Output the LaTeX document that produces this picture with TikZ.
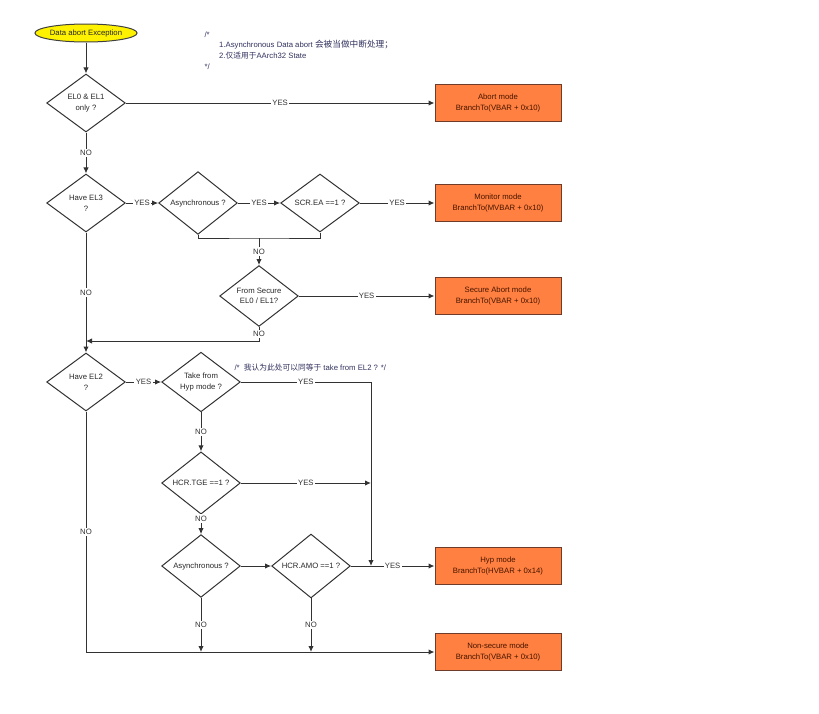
\documentclass[tikz,border=0pt]{standalone}
\usepackage{fontspec}
\setmainfont{Liberation Sans}
\newfontfamily\cjk{Noto Sans CJK SC}
\usetikzlibrary{shapes.geometric, arrows.meta}

\definecolor{modeorange}{RGB}{255,128,64}
\definecolor{modeedge}{RGB}{110,60,40}
\definecolor{modetext}{RGB}{70,20,0}
\definecolor{flowline}{RGB}{50,50,50}
\definecolor{notetext}{RGB}{50,50,95}

\tikzset{
  decision/.style={diamond, draw=flowline, minimum width=59pt, minimum height=43.5pt,
    inner sep=0pt, align=center, text=black!85},
  modebox/.style={rectangle, draw=modeedge, fill=modeorange, minimum width=94.5pt,
    minimum height=27.75pt, align=center, text=modetext},
  startnode/.style={ellipse, draw=black!75, fill=yellow, minimum width=75pt,
    minimum height=13.5pt, inner sep=0pt, text=black!85},
  lbl/.style={fill=white, inner sep=1pt, text=black!80},
  note/.style={align=left, inner sep=0pt, text=notetext},
}

\begin{document}
\begin{tikzpicture}[x=0.75pt, y=-0.75pt, >={Latex[length=4.5pt, width=4pt]},
  line width=0.75pt, color=flowline, font=\fontsize{5.8}{8}\selectfont]

\useasboundingbox (0,0) rectangle (819,714);

% nodes
\node [startnode] (S) at (86,33) {Data abort Exception};
\node [decision] (A) at (86,103) {EL0 \& EL1\\only ?};
\node [modebox] (B) at (498,103) {Abort mode\\BranchTo(VBAR + 0x10)};

\node [decision] (C) at (86,203) {Have EL3\\?};
\node [decision] (D) at (198,203) {Asynchronous ?};
\node [decision] (E) at (320,203) {SCR.EA ==1 ?};
\node [modebox] (F) at (498,203) {Monitor mode\\BranchTo(MVBAR + 0x10)};

\node [decision] (G) at (259,296) {From Secure\\EL0 / EL1?};
\node [modebox] (H) at (498,296) {Secure Abort mode\\BranchTo(VBAR + 0x10)};

\node [decision] (I) at (86,382) {Have EL2\\?};
\node [decision] (J) at (201,382) {Take from\\Hyp mode ?};
\node [decision] (K) at (201,483) {HCR.TGE ==1 ?};
\node [decision] (L) at (201,566) {Asynchronous ?};
\node [decision] (M) at (311,566) {HCR.AMO ==1 ?};
\node [modebox] (N) at (498,566) {Hyp mode\\BranchTo(HVBAR + 0x14)};
\node [modebox] (O) at (498,652) {Non-secure mode\\BranchTo(VBAR + 0x10)};

% notes
\node [note, anchor=north west] (X) at (204,31)
  {/*\\\hspace{11pt}1.Asynchronous Data abort {\cjk\fontsize{6.5}{8}\selectfont 会被当做中断处理；}\\
   \hspace{11pt}2.{\cjk 仅适用于}AArch32 State\\*/};
\node [note, anchor=west] (Y) at (234,368) {/*\ \ {\cjk 我认为此处可以同等于} take from EL2 ? */};

% joints
\coordinate (P) at (259,238);
\coordinate (Q) at (86,341);
\coordinate (R) at (371,566);
\coordinate (T) at (371,483);
\coordinate (U) at (201,652);
\coordinate (V) at (311,652);

% arrows
\draw [->] (S) to (A);
\draw [->] (A) to node [lbl]{YES} (B);
\draw [->] (A) to node [lbl]{NO} (C);

\draw [->] (C) to node [lbl]{YES} (D);
\draw [->] (D) to node [lbl]{YES} (E);
\draw [->] (E) to node [lbl]{YES} (F);
\draw (D.south) |- (P) -| (E.south);
\draw [->] (P) to node [lbl]{NO} (G);

\draw [->] (G) to node [lbl]{YES} (H);
\draw [->] (G.south) |- node [lbl, pos=0.25]{NO} (Q);
\draw [->] (C) to node [lbl, pos=0.5]{NO} (I);

\draw [->] (I) to node [lbl]{YES} (J);
\draw [->] (J.east) -| node [lbl, pos=0.25]{YES} (R);
\draw [->] (J) to node [lbl]{NO} (K);
\draw [->] (K) to node [lbl]{YES} (T);
\draw [->] (K) to node [lbl, pos=0.2]{NO} (L);

\draw [->] (L) to (M);
\draw [->] (M) to node [lbl]{YES} (N);
\draw [->] (L) to node [lbl]{NO} (U);
\draw [->] (M) to node [lbl]{NO} (V);
\draw [->] (I.south) |- node [lbl, pos=0.25]{NO} (O.west);

\end{tikzpicture}
\end{document}
